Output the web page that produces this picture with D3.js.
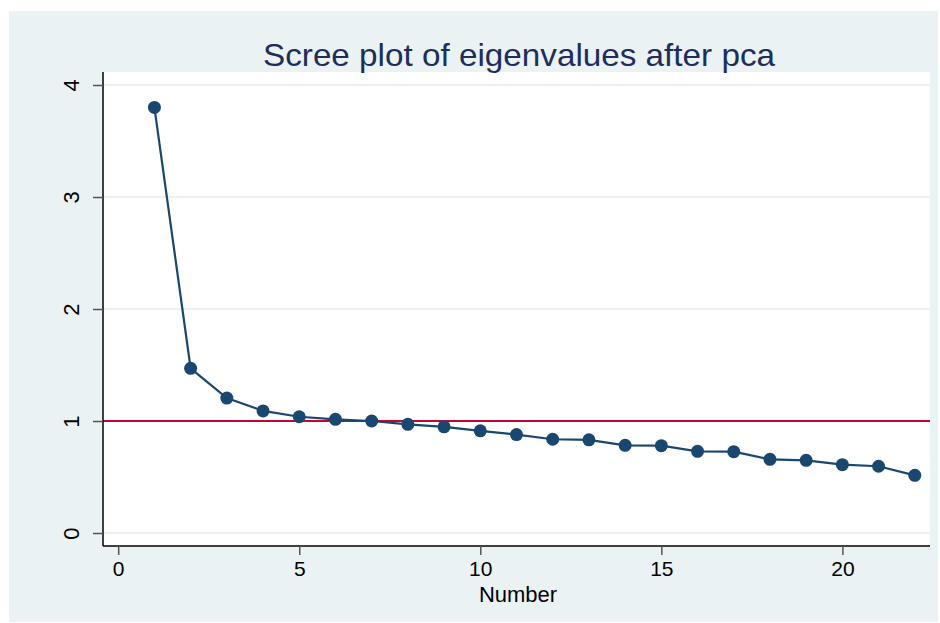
<!DOCTYPE html>
<html>
<head>
<meta charset="utf-8">
<script src="https://cdn.jsdelivr.net/npm/d3@7"></script>
<style>
  body { margin: 0; background: #fff; }
  svg { display: block; font-family: "Liberation Sans", Arial, sans-serif; }
</style>
</head>
<body>
<div id="chart"></div>
<script>
const components = d3.range(1, 23);
const eigenvalues = [3.80, 1.47, 1.205, 1.09, 1.038, 1.015, 1.0, 0.97, 0.948, 0.912,
  0.879, 0.837, 0.832, 0.783, 0.780, 0.729, 0.726, 0.658, 0.649, 0.610, 0.596, 0.515];
const xTicks = [0, 5, 10, 15, 20];
const yTicks = [0, 1, 2, 3, 4];
const refLine = 1;

const width = 940, height = 623;
const svg = d3.select('#chart')
  .append('svg')
  .attr('width', width)
  .attr('height', height);

// outer panel
svg.append('rect')
  .attr('x', 9).attr('y', 11)
  .attr('width', 929).attr('height', 611)
  .attr('fill', '#eaf2f3');

const plotL = 103, plotR = 930, plotT = 72, plotB = 546;

const x = d3.scaleLinear()
  .domain([-0.42, 22.42])
  .range([plotL, plotR]);

const y = d3.scaleLinear()
  .domain([-0.116, 4.116])
  .range([plotB, plotT]);

// plot region
svg.append('rect')
  .attr('x', plotL).attr('y', plotT)
  .attr('width', plotR - plotL).attr('height', plotB - plotT)
  .attr('fill', '#fff');

// grid
svg.append('g')
  .selectAll('line')
  .data(yTicks)
  .join('line')
  .attr('x1', plotL).attr('x2', plotR)
  .attr('y1', d => y(d)).attr('y2', d => y(d))
  .attr('stroke', '#eaf2f3')
  .attr('stroke-width', 2);

// reference line
svg.append('line')
  .attr('x1', plotL).attr('x2', plotR)
  .attr('y1', y(refLine)).attr('y2', y(refLine))
  .attr('stroke', '#c10534')
  .attr('stroke-width', 2);

function yAxis(g) {
  g.attr('transform', `translate(${plotL},0)`)
    .call(d3.axisLeft(y).tickValues(yTicks).tickFormat(d3.format('d')).tickSize(10).tickPadding(14))
    .call(g => g.select('.domain').attr('d', `M0,${plotT}V${plotB}`).attr('stroke', '#000').attr('stroke-width', 1.5))
    .call(g => g.selectAll('.tick line').attr('stroke', '#555').attr('stroke-width', 1.5))
    .call(g => g.selectAll('.tick text')
      .attr('transform', 'rotate(-90)')
      .attr('x', 0).attr('y', -32)
      .attr('dy', '0.36em')
      .attr('text-anchor', 'middle')
      .attr('font-size', '22px')
      .attr('fill', '#000'));
}

function xAxis(g) {
  g.attr('transform', `translate(0,${plotB})`)
    .call(d3.axisBottom(x).tickValues(xTicks).tickFormat(d3.format('d')).tickSize(9).tickPadding(6))
    .call(g => g.select('.domain').attr('d', `M${plotL},0H${plotR}`).attr('stroke', '#000').attr('stroke-width', 1.5))
    .call(g => g.selectAll('.tick line').attr('stroke', '#555').attr('stroke-width', 1.5))
    .call(g => g.selectAll('.tick text')
      .attr('font-size', '21px')
      .attr('fill', '#000'));
}

svg.append('g').call(xAxis);
svg.append('g').call(yAxis);
svg.selectAll('.tick text').attr('font-family', '"Liberation Sans", Arial, sans-serif');

const line = d3.line()
  .x((d, i) => x(components[i]))
  .y(d => y(d));

svg.append('path')
  .datum(eigenvalues)
  .attr('d', line)
  .attr('fill', 'none')
  .attr('stroke', '#1a476f')
  .attr('stroke-width', 2.2);

svg.append('g')
  .selectAll('circle')
  .data(eigenvalues)
  .join('circle')
  .attr('cx', (d, i) => x(components[i]))
  .attr('cy', d => y(d))
  .attr('r', 6.5)
  .attr('fill', '#1a476f');

// title
svg.append('text')
  .attr('x', 519).attr('y', 66)
  .attr('text-anchor', 'middle')
  .attr('font-size', '32px')
  .attr('textLength', 512)
  .attr('lengthAdjust', 'spacingAndGlyphs')
  .attr('fill', '#1e2d5a')
  .text('Scree plot of eigenvalues after pca');

// x label
svg.append('text')
  .attr('x', 518).attr('y', 602)
  .attr('text-anchor', 'middle')
  .attr('font-size', '22px')
  .attr('fill', '#000')
  .text('Number');
</script>
</body>
</html>
